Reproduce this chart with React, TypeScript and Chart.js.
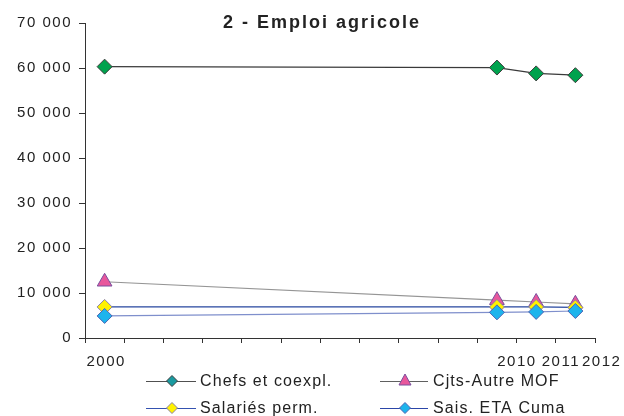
import React, { useEffect, useRef } from "react";
import { Chart, registerables } from "chart.js";

Chart.register(...registerables);

const years = [2000, 2010, 2011, 2012];
const chefs = [60300, 60100, 58800, 58400];
const cjts = [12500, 8400, 8000, 7600];
const salaries = [6900, 6900, 6900, 6800];
const sais = [4900, 5700, 5800, 6000];

const xLabels = ["2000", "2010", "2011", "2012"];
const xLabelPos = [2000.04, 2010.51, 2011.63, 2012.67];
const xMin = 1999.5;
const xMax = 2012.5;
const yMax = 70000;
const yStep = 10000;

const FONT = "'Liberation Sans', Arial, sans-serif";

type Series = {
  label: string;
  values: number[];
  line: string;
  fill: string;
  border: string;
  style: string;
  radius: number;
  legendFill: string;
  legendLine: string;
  order: number;
};

const series: Series[] = [
  { label: "Chefs et coexpl.", values: chefs, line: "#3a3a3a", fill: "#00a24e", border: "#3c3c3c", style: "rectRot", radius: 7.5, legendFill: "#1a9aa0", legendLine: "#505050", order: 4 },
  { label: "Cjts-Autre MOF", values: cjts, line: "#959595", fill: "#e8579c", border: "#7a4f9e", style: "triangle", radius: 8.5, legendFill: "#e8579c", legendLine: "#606060", order: 3 },
  { label: "Salariés perm.", values: salaries, line: "#27479f", fill: "#fff200", border: "#8a80a8", style: "rectRot", radius: 7.5, legendFill: "#fff200", legendLine: "#3452b0", order: 2 },
  { label: "Sais. ETA Cuma", values: sais, line: "#7f8fcc", fill: "#1db4ec", border: "#4d64b5", style: "rectRot", radius: 7.5, legendFill: "#1db4ec", legendLine: "#2b46a8", order: 1 },
];

const fmt = (v: number) => String(v).replace(/\B(?=(\d{3})+(?!\d))/g, " ");

const setSpacing = (chart: any) => {
  try {
    chart.ctx.letterSpacing = "1.5px";
  } catch (e) {}
};

const spacingPlugin = {
  id: "letterSpacing",
  beforeUpdate: setSpacing,
  beforeLayout: setSpacing,
  beforeRender: setSpacing,
  beforeDraw: setSpacing,
};

const titlePlugin = {
  id: "customTitle",
  afterDraw(chart: any) {
    const ctx = chart.ctx;
    ctx.save();
    try {
      ctx.letterSpacing = "2px";
    } catch (e) {}
    ctx.font = `bold 18px ${FONT}`;
    ctx.fillStyle = "#222";
    ctx.textAlign = "center";
    ctx.textBaseline = "alphabetic";
    ctx.fillText("2 - Emploi agricole", 322, 28);
    ctx.restore();
  },
};

const legendPlugin = {
  id: "customLegend",
  afterDraw(chart: any) {
    const ctx = chart.ctx;
    const cols = [
      { x0: 146, x1: 196, mx: 172, tx: 200 },
      { x0: 380, x1: 428, mx: 405, tx: 433 },
    ];
    const rows = [381, 408];
    ctx.save();
    series.forEach((s, i) => {
      const c = cols[i % 2];
      const y = rows[Math.floor(i / 2)];
      ctx.strokeStyle = s.legendLine;
      ctx.lineWidth = 1;
      ctx.beginPath();
      ctx.moveTo(c.x0, y + 0.5);
      ctx.lineTo(c.x1, y + 0.5);
      ctx.stroke();
      ctx.fillStyle = s.legendFill;
      ctx.strokeStyle = s.border;
      ctx.beginPath();
      if (s.style === "triangle") {
        ctx.moveTo(c.mx, y - 7);
        ctx.lineTo(c.mx + 6, y + 4);
        ctx.lineTo(c.mx - 6, y + 4);
      } else {
        ctx.moveTo(c.mx, y - 5.5);
        ctx.lineTo(c.mx + 5.5, y);
        ctx.lineTo(c.mx, y + 5.5);
        ctx.lineTo(c.mx - 5.5, y);
      }
      ctx.closePath();
      ctx.fill();
      ctx.stroke();
      try {
        ctx.letterSpacing = "1.1px";
      } catch (e) {}
      ctx.fillStyle = "#222";
      ctx.font = `16px ${FONT}`;
      ctx.textAlign = "left";
      ctx.textBaseline = "middle";
      ctx.fillText(s.label, c.tx, y + 1);
    });
    ctx.restore();
  },
};

export default function App() {
  const ref = useRef<HTMLCanvasElement>(null);

  useEffect(() => {
    if (!ref.current) return;
    const labelMap = new Map<number, string>();
    xLabelPos.forEach((p, i) => labelMap.set(p, xLabels[i]));
    const boundaries: number[] = [];
    for (let v = xMin; v <= xMax + 1e-9; v += 1) boundaries.push(v);

    const chart = new Chart(ref.current, {
      type: "line",
      data: {
        datasets: series.map((s) => ({
          label: s.label,
          data: years.map((yr, i) => ({ x: yr, y: s.values[i] })),
          borderColor: s.line,
          borderWidth: 1.2,
          backgroundColor: s.fill,
          pointBackgroundColor: s.fill,
          pointBorderColor: s.border,
          pointBorderWidth: 1,
          pointStyle: s.style as any,
          pointRadius: s.radius,
          tension: 0,
          order: s.order,
        })),
      },
      options: {
        animation: false,
        responsive: false,
        maintainAspectRatio: false,
        layout: { padding: { left: 0, right: 29, top: 23, bottom: 0 } },
        plugins: {
          legend: { display: false },
          title: { display: false },
          tooltip: { enabled: false },
        },
        scales: {
          x: {
            type: "linear",
            min: xMin,
            max: xMax,
            afterBuildTicks: (scale: any) => {
              const first = boundaries[0];
              const last = boundaries[boundaries.length - 1];
              const mid = boundaries.slice(1, -1);
              scale.ticks = [first, ...xLabelPos, ...mid, last].map((v) => ({ value: v }));
            },
            afterFit: (scale: any) => {
              scale.height = 78;
              scale.paddingLeft = 0;
              scale.paddingRight = 0;
            },
            ticks: {
              autoSkip: false,
              maxRotation: 0,
              minRotation: 0,
              padding: 10,
              color: "#222",
              font: { family: FONT, size: 15 },
              callback: (v: any) => labelMap.get(v) ?? "",
            },
            grid: {
              drawOnChartArea: false,
              drawTicks: true,
              tickLength: 5,
              tickColor: (ctx: any) =>
                ctx.tick && labelMap.has(ctx.tick.value) ? "rgba(0,0,0,0)" : "#333",
            },
            border: { color: "#333", width: 1 },
          },
          y: {
            min: 0,
            max: yMax,
            afterFit: (scale: any) => {
              scale.width = 85;
            },
            ticks: {
              stepSize: yStep,
              padding: 7,
              color: "#222",
              font: { family: FONT, size: 15 },
              callback: (v: any) => fmt(Number(v)),
            },
            grid: {
              drawOnChartArea: false,
              drawTicks: true,
              tickLength: 6,
              tickColor: "#333",
            },
            border: { color: "#333", width: 1 },
          },
        },
      },
      plugins: [spacingPlugin, titlePlugin, legendPlugin],
    });
    return () => chart.destroy();
  }, []);

  return (
    <div style={{ position: "fixed", left: 0, top: 0, width: 624, height: 416, background: "#fff" }}>
      <canvas ref={ref} width={624} height={416} style={{ display: "block", width: 624, height: 416 }} />
    </div>
  );
}
